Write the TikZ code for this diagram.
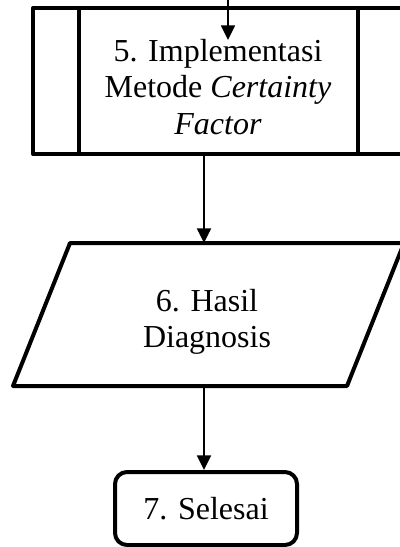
\documentclass[tikz,border=0pt]{standalone}
\usepackage{fontspec}
\setmainfont{Liberation Serif}
\usetikzlibrary{arrows.meta}
\begin{document}
\begin{tikzpicture}[x=0.75pt,y=-0.75pt,
  shapeline/.style={line width=3pt,line join=round},
  conn/.style={line width=1.2pt,-{Triangle[length=11pt,width=10.5pt]}},
  lbl/.style={font=\fontsize{24}{27.5}\selectfont,align=center,inner sep=0pt}]
\useasboundingbox (0,0) rectangle (400,547);
\clip (0,0) rectangle (400,547);
% predefined process
\node[shapeline,draw,rectangle,minimum width=371*0.75pt,minimum height=146*0.75pt,inner sep=0pt] (p5) at (218.5,81) {};
\draw[shapeline] (79,8) -- (79,154);
\draw[shapeline] (358,8) -- (358,154);
\node[lbl] (t5) at (218,87) {5. Implementasi\\Metode \textit{Certainty}\\\textit{Factor}};
% parallelogram
\draw[shapeline] (70,243) -- (404,243) -- (347,386) -- (13,386) -- cycle;
\node[lbl] (t6) at (207,322) {6. Hasil\\Diagnosis};
% terminator
\node[shapeline,draw,rectangle,rounded corners=9pt,minimum width=182*0.75pt,minimum height=73*0.75pt,inner sep=0pt,font=\fontsize{24}{27.5}\selectfont] (t7) at (206,508.5) {7. Selesai};
% connectors
\coordinate (inA) at (228,0);
\coordinate (inB) at (228,40);
\coordinate (o5) at (204,154);
\coordinate (i6) at (204,243);
\coordinate (o6) at (204,386);
\draw[conn] (inA) -- (inB);
\draw[conn] (o5) -- (i6);
\draw[conn] (o6) -- (t7.north -| o6);
\end{tikzpicture}
\end{document}
